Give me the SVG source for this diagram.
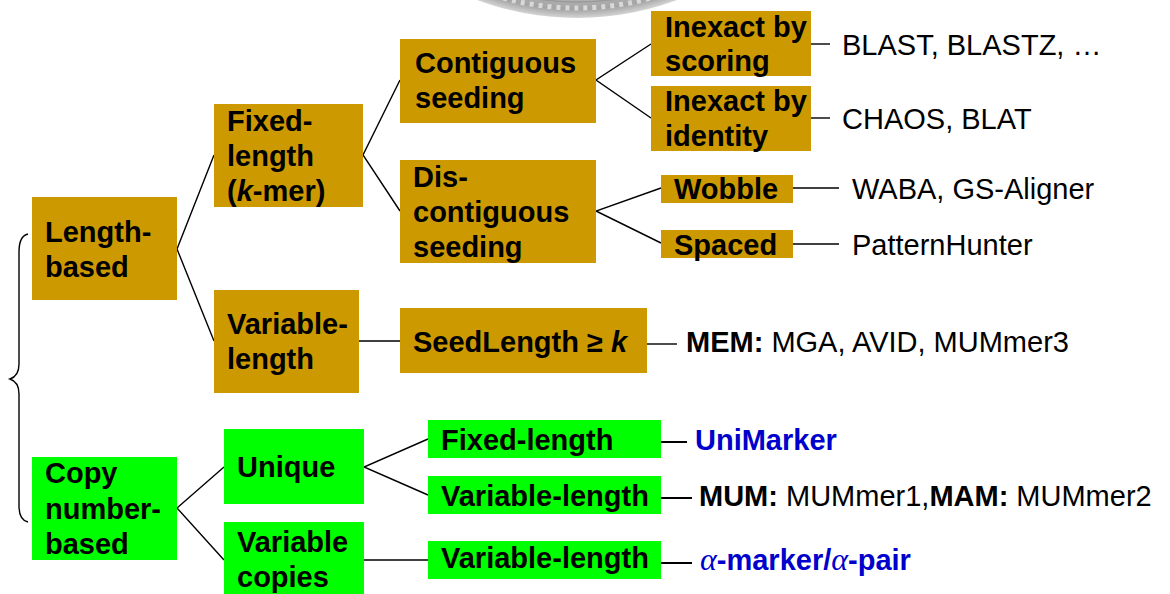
<svg xmlns="http://www.w3.org/2000/svg" width="1170" height="594" viewBox="0 0 1170 594">
<style>
text{font-family:"Liberation Sans",Arial,sans-serif;font-size:29px;fill:#000}
.b{font-weight:bold}
.gold{fill:#CC9900}
.green{fill:#00FF00}
.blue{fill:#0000CC;font-weight:bold}
.c{stroke:#000;stroke-width:1.4;fill:none}
.t{stroke:#000;stroke-width:2;fill:none}
</style>
<defs>
<radialGradient id="seal" cx="0.5" cy="0.5" r="0.5">
<stop offset="0.9" stop-color="#bdbdbd"/>
<stop offset="0.97" stop-color="#a4a4a4"/>
<stop offset="1" stop-color="#d4d4d4"/>
</radialGradient>
</defs>
<rect width="1170" height="594" fill="#fff"/>
<g id="seal-logo">
<circle cx="577" cy="-268" r="286" fill="url(#seal)"/>
<circle cx="577" cy="-268" r="276" fill="none" stroke="#d8d8d8" stroke-width="5" stroke-dasharray="4 5"/>
<circle cx="577" cy="-268" r="270" fill="none" stroke="#9a9a9a" stroke-width="1.5"/>
</g>
<g id="connectors">
<path class="c" d="M28 234 Q19 236 19 252 L19 364 Q19 376 10 379 Q19 382 19 394 L19 506 Q19 520 28 522"/>
<path class="c" d="M214 155 L177 249 L214 341"/>
<path class="c" d="M400 80 L363 155 L400 211"/>
<path class="c" d="M651 44 L596 80 L651 118"/>
<path class="c" d="M661 188 L596 211 L661 243"/>
<path class="c" d="M359 341 L400 341"/>
<path class="c" d="M224 467 L177 508 L224 560"/>
<path class="c" d="M428 439 L364 467 L428 495"/>
<path class="c" d="M364 560 L428 560"/>
<path class="c" stroke="#444" d="M811 44 L830 44"/>
<path class="c" d="M811 118 L830 118"/>
<path class="c" d="M793 188 L839 188"/>
<path class="c" d="M793 244 L839 244"/>
<path class="c" d="M647 344 L677 344"/>
<path class="t" d="M655 442 L687 442"/>
<path class="t" d="M661 498 L692 498"/>
<path class="t" d="M661 563 L692 563"/>
</g>
<g id="length-based">
<rect class="gold" x="32" y="197" width="145" height="103"/>
<text class="b" x="45" y="242">Length-</text>
<text class="b" x="45" y="277">based</text>
</g>
<g id="fixed-length-kmer">
<rect class="gold" x="214" y="104" width="149" height="103"/>
<text class="b" x="227" y="131">Fixed-</text>
<text class="b" x="227" y="166">length</text>
<text class="b" x="227" y="201">(<tspan font-style="italic">k</tspan>-mer)</text>
</g>
<g id="variable-length-gold">
<rect class="gold" x="214" y="290" width="145" height="103"/>
<text class="b" x="227" y="334">Variable-</text>
<text class="b" x="227" y="369">length</text>
</g>
<g id="contiguous-seeding">
<rect class="gold" x="400" y="39" width="196" height="84"/>
<text class="b" x="415" y="73">Contiguous</text>
<text class="b" x="415" y="108">seeding</text>
</g>
<g id="dis-contiguous-seeding">
<rect class="gold" x="400" y="160" width="196" height="103"/>
<text class="b" x="413" y="187">Dis-</text>
<text class="b" x="413" y="222">contiguous</text>
<text class="b" x="413" y="257">seeding</text>
</g>
<g id="seedlength">
<rect class="gold" x="400" y="308" width="247" height="65"/>
<text class="b" x="413" y="352">SeedLength ≥ <tspan font-style="italic">k</tspan></text>
</g>
<g id="inexact-scoring">
<rect class="gold" x="651" y="11" width="160" height="65"/>
<text class="b" x="665" y="37">Inexact by</text>
<text class="b" x="665" y="71">scoring</text>
</g>
<g id="inexact-identity">
<rect class="gold" x="651" y="86" width="160" height="65"/>
<text class="b" x="665" y="111">Inexact by</text>
<text class="b" x="665" y="146">identity</text>
</g>
<g id="wobble">
<rect class="gold" x="661" y="175" width="132" height="28"/>
<text class="b" x="674" y="199">Wobble</text>
</g>
<g id="spaced">
<rect class="gold" x="661" y="230" width="132" height="28"/>
<text class="b" x="674" y="255">Spaced</text>
</g>
<g id="copy-number-based">
<rect class="green" x="32" y="457" width="145" height="103"/>
<text class="b" x="45" y="483">Copy</text>
<text class="b" x="45" y="519">number-</text>
<text class="b" x="45" y="554">based</text>
</g>
<g id="unique">
<rect class="green" x="224" y="429" width="140" height="75"/>
<text class="b" x="237" y="477">Unique</text>
</g>
<g id="variable-copies">
<rect class="green" x="224" y="522" width="140" height="72"/>
<text class="b" x="237" y="552">Variable</text>
<text class="b" x="237" y="587">copies</text>
</g>
<g id="fixed-length-green">
<rect class="green" x="428" y="420" width="233" height="38"/>
<text class="b" x="441" y="450">Fixed-length</text>
</g>
<g id="variable-length-green-1">
<rect class="green" x="428" y="476" width="233" height="38"/>
<text class="b" x="441" y="506">Variable-length</text>
</g>
<g id="variable-length-green-2">
<rect class="green" x="428" y="541" width="233" height="38"/>
<text class="b" x="441" y="568">Variable-length</text>
</g>
<g id="labels">
<text x="842" y="55">BLAST, BLASTZ, …</text>
<text x="842" y="129">CHAOS, BLAT</text>
<text x="852" y="199">WABA, GS-Aligner</text>
<text x="852" y="255">PatternHunter</text>
<text x="686" y="352"><tspan class="b">MEM:</tspan> MGA, AVID, MUMmer3</text>
<text class="blue" x="695" y="450">UniMarker</text>
<text x="699" y="506"><tspan class="b">MUM:</tspan> MUMmer1,<tspan class="b">MAM:</tspan> MUMmer2</text>
<text class="blue" x="700" y="570"><tspan font-family="'Liberation Serif',serif" font-style="italic" font-weight="normal" font-size="32">α</tspan>-marker/<tspan font-family="'Liberation Serif',serif" font-style="italic" font-weight="normal" font-size="32">α</tspan>-pair</text>
</g>
</svg>
